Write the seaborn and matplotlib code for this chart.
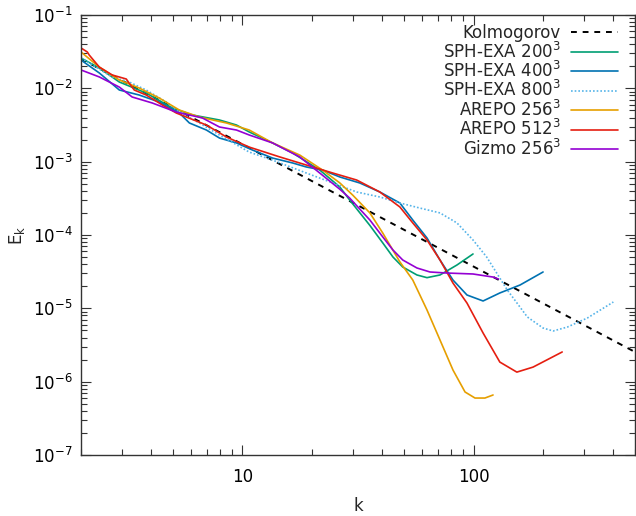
import numpy as np
import pandas as pd
import matplotlib
matplotlib.use("Agg")
import matplotlib.pyplot as plt
from matplotlib.ticker import FormatStrFormatter, NullFormatter
import seaborn as sns

# Kolmogorov reference line (end points of the -5/3 slope)
kolmogorov_k = [2.0, 500.0]
kolmogorov_E = [0.0252, 2.54e-6]

sph200_k = [2.0, 2.40, 2.93, 3.83, 4.97, 6.07, 7.95, 9.42, 10.7, 13.5, 16.5, 21.6,
            26.4, 29.1, 35.6, 40.5, 44.8, 49.4, 56.9, 62.9, 71.6, 84.8, 99.5]
sph200_E = [0.0259, 0.0189, 0.0122, 8.63e-3, 5.40e-3, 4.33e-3, 3.70e-3, 3.16e-3, 2.54e-3,
            1.80e-3, 1.31e-3, 7.69e-4, 4.51e-4, 3.0e-4, 1.35e-4, 7.78e-5, 5.01e-5,
            3.66e-5, 2.85e-5, 2.62e-5, 2.85e-5, 3.90e-5, 5.51e-5]

sph400_k = [2.0, 2.40, 2.93, 3.57, 4.36, 5.33, 5.89, 6.98, 7.95, 9.42, 11.05, 13.5, 16.5,
            18.9, 22.2, 26.4, 32.2, 39.3, 48.0, 54.6, 62.9, 71.6, 81.5, 93.7, 110, 130,
            159, 200]
sph400_E = [0.0243, 0.0162, 9.49e-3, 8.11e-3, 6.51e-3, 4.61e-3, 3.37e-3, 2.70e-3, 2.10e-3,
            1.80e-3, 1.44e-3, 1.12e-3, 9.59e-4, 8.46e-4, 7.69e-4, 6.18e-4, 5.12e-4,
            3.86e-4, 2.73e-4, 1.60e-4, 9.10e-5, 4.56e-5, 2.43e-5, 1.52e-5, 1.26e-5,
            1.62e-5, 2.08e-5, 3.13e-5]

sph800_k = [2.0, 2.73, 3.23, 3.83, 4.68, 5.33, 6.51, 7.95, 10.7, 13.5, 18.9, 24.6, 31.2,
            39.3, 48.0, 58.6, 71.6, 84.8, 99.5, 114, 140, 171, 200, 221, 255, 311, 403]
sph800_E = [0.0259, 0.0143, 0.0122, 9.49e-3, 6.51e-3, 4.75e-3, 3.37e-3, 2.31e-3, 1.35e-3,
            1.05e-3, 7.00e-4, 5.12e-4, 3.86e-4, 3.30e-4, 2.73e-4, 2.33e-4, 2.00e-4,
            1.46e-4, 8.55e-5, 5.01e-5, 1.78e-5, 7.62e-6, 5.39e-6, 4.91e-6, 5.56e-6,
            7.38e-6, 1.22e-5]

arepo256_k = [2.0, 2.40, 2.93, 3.57, 4.36, 5.33, 6.51, 8.52, 10.7, 13.5, 17.7, 22.2, 26.4,
              30.0, 35.6, 40.5, 44.8, 48.0, 54.6, 62.9, 71.6, 81.5, 91.9, 101.5, 112, 121.5]
arepo256_E = [0.0313, 0.0195, 0.0130, 0.0101, 7.38e-3, 5.06e-3, 4.06e-3, 3.37e-3, 2.70e-3,
              1.80e-3, 1.23e-3, 7.69e-4, 5.12e-4, 3.5e-4, 2.0e-4, 1.06e-4, 6.2e-5, 4.3e-5,
              2.43e-5, 9.49e-6, 3.70e-6, 1.44e-6, 7.23e-7, 5.98e-7, 5.98e-7, 6.58e-7]

arepo512_k = [2.0, 2.13, 2.17, 2.40, 2.73, 3.14, 3.23, 3.40, 3.83, 4.50, 5.17, 6.98, 8.52,
              10.7, 14.5, 18.9, 24.6, 31.2, 39.3, 48.0, 54.6, 62.9, 71.6, 81.5, 93.7, 110,
              130, 154, 181, 242]
arepo512_E = [0.0355, 0.0313, 0.0285, 0.0195, 0.0152, 0.0134, 0.0118, 9.49e-3, 8.11e-3,
              5.93e-3, 4.61e-3, 3.16e-3, 2.17e-3, 1.58e-3, 1.16e-3, 9.00e-4, 7.00e-4,
              5.62e-4, 3.86e-4, 2.41e-4, 1.46e-4, 8.55e-5, 4.56e-5, 2.21e-5, 1.18e-5,
              4.61e-6, 1.85e-6, 1.35e-6, 1.58e-6, 2.54e-6]

gizmo256_k = [2.0, 2.40, 2.93, 3.33, 4.07, 5.17, 5.89, 6.71, 7.95, 9.42, 10.7, 13.5, 17.7,
              21.6, 26.4, 29.1, 35.6, 40.5, 44.8, 49.4, 56.9, 64.8, 76.7, 99.5, 121.5, 128]
gizmo256_E = [0.0178, 0.0143, 0.0104, 7.62e-3, 6.31e-3, 4.75e-3, 4.33e-3, 3.94e-3, 2.97e-3,
              2.70e-3, 2.31e-3, 1.80e-3, 1.16e-3, 7.00e-4, 4.2e-4, 3.19e-4, 1.60e-4,
              9.39e-5, 6.24e-5, 4.56e-5, 3.55e-5, 3.13e-5, 3.03e-5, 2.94e-5, 2.67e-5,
              2.51e-5]

series = [
    ("Kolmogorov", kolmogorov_k, kolmogorov_E, "black", (0, (3, 3)), 1.4),
    ("SPH-EXA 200$^3$", sph200_k, sph200_E, "#009e73", "-", 1.2),
    ("SPH-EXA 400$^3$", sph400_k, sph400_E, "#0072b2", "-", 1.2),
    ("SPH-EXA 800$^3$", sph800_k, sph800_E, "#56b4e9", (0, (1, 1.2)), 1.2),
    ("AREPO 256$^3$", arepo256_k, arepo256_E, "#e69f00", "-", 1.2),
    ("AREPO 512$^3$", arepo512_k, arepo512_E, "#e51e10", "-", 1.2),
    ("Gizmo 256$^3$", gizmo256_k, gizmo256_E, "#9400d3", "-", 1.2),
]

sns.set_style("ticks")
plt.rcParams["font.family"] = ["DejaVu Sans"]
plt.rcParams["mathtext.default"] = "regular"

fig = plt.figure(figsize=(6.36, 5.16), dpi=100)
ax = fig.add_axes([81 / 636, 1 - 455 / 516, 554 / 636, 440 / 516])

for label, k, E, color, ls, lw in series:
    df = pd.DataFrame({"k": k, "E": E})
    sns.lineplot(data=df, x="k", y="E", ax=ax, color=color, linestyle=ls,
                 linewidth=lw, label=label, sort=False, estimator=None)

ax.set_xscale("log")
ax.set_yscale("log")
ax.set_xlim(2, 500)
ax.set_ylim(1e-7, 1e-1)
ax.xaxis.set_major_formatter(FormatStrFormatter("%g"))
ax.xaxis.set_minor_formatter(NullFormatter())

ax.tick_params(which="both", direction="in", top=True, right=True, labelsize=12,
               colors="#333333", labelcolor="black")
ax.tick_params(which="major", length=7, width=0.8)
ax.tick_params(which="minor", length=4, width=0.8)
ax.tick_params(axis="x", which="major", pad=9)
ax.tick_params(axis="y", which="major", pad=6)
for s in ax.spines.values():
    s.set_color("#333333")
    s.set_linewidth(1.0)

ax.set_xlabel("k", fontsize=12)
ax.set_ylabel("E$_k$", fontsize=12)
ax.xaxis.set_label_coords(0.5, -0.095)
ax.yaxis.set_label_coords(-0.098, 0.5)

ax.legend(loc="upper right", frameon=False, markerfirst=False, fontsize=12,
          handlelength=2.8, handletextpad=0.6, labelspacing=-0.04,
          borderaxespad=0.15, bbox_to_anchor=(0.985, 1.0))

fig.savefig("out.png", dpi=100)
